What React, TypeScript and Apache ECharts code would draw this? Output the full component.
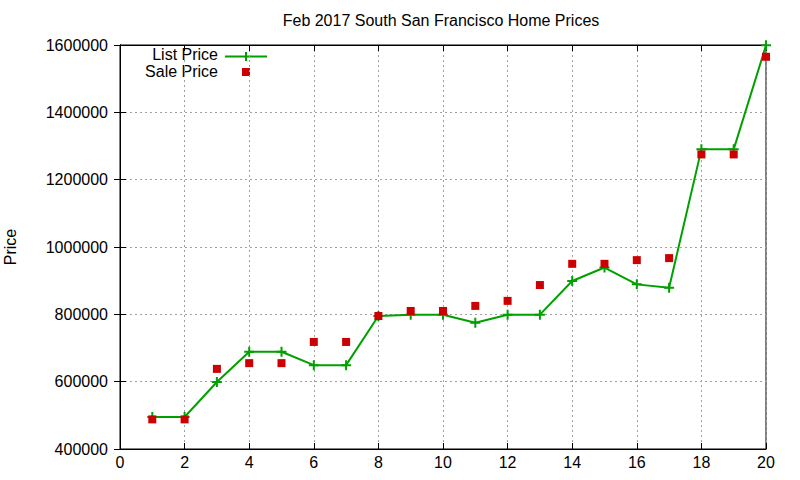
import React, { useEffect, useRef } from "react";
import * as echarts from "echarts";

const titleText = "Feb 2017 South San Francisco Home Prices";
const yAxisName = "Price";
const listLabel = "List Price";
const saleLabel = "Sale Price";
const xValues = [1, 2, 3, 4, 5, 6, 7, 8, 9, 10, 11, 12, 13, 14, 15, 16, 17, 18, 19, 20];
const listPrice = [495000, 495000, 599000, 689000, 689000, 649000, 649000, 795000, 799000, 799000, 775000, 799000, 799000, 899000, 939000, 889000, 879000, 1290000, 1290000, 1599000];
const salePrice = [488000, 488000, 638000, 655000, 655000, 718000, 718000, 795000, 810000, 810000, 825000, 840000, 887000, 950000, 950000, 961000, 967000, 1275000, 1275000, 1565000];

const FONT = "Liberation Sans, Arial, sans-serif";
const FS = 16;
const GREEN = "#00a000";
const RED = "#cc0000";
const PLUS = "path://M4,0 H6 V4 H10 V6 H6 V10 H4 V6 H0 V4 H4 Z";

export default function App() {
  const ref = useRef<HTMLDivElement>(null);
  useEffect(() => {
    const chart = echarts.init(ref.current!, null, { renderer: "svg" });
    const axisCommon = {
      axisLine: { show: true, lineStyle: { color: "#000", width: 1 } },
      axisTick: { show: true, inside: true, length: 6, lineStyle: { color: "#000" } },
    };
    const splitDotted = { show: true, lineStyle: { color: "#a0a0a0", type: [2, 3], width: 1 } };
    chart.setOption({
      animation: false,
      backgroundColor: "#fff",
      textStyle: { fontFamily: FONT },
      grid: { left: 120, right: 34, top: 45, bottom: 31, show: true, borderColor: "#000", borderWidth: 1, containLabel: false, outerBoundsMode: "none" },
      xAxis: [
        {
          type: "value", min: 0, max: 20, interval: 2, position: "bottom",
          ...axisCommon,
          axisLabel: { color: "#000", fontSize: FS, fontFamily: FONT, margin: 5, formatter: (v: number) => String(v) },
          splitLine: splitDotted,
        },
        {
          type: "value", min: 0, max: 20, interval: 2, position: "top",
          ...axisCommon,
          axisLabel: { show: false },
          splitLine: { show: false },
        },
      ],
      yAxis: [
        {
          type: "value", min: 400000, max: 1600000, interval: 200000, position: "left",
          ...axisCommon,
          name: yAxisName, nameLocation: "middle", nameRotate: 90, nameGap: 102,
          nameTextStyle: { color: "#000", fontSize: FS, fontFamily: FONT },
          axisLabel: { color: "#000", fontSize: FS, fontFamily: FONT, margin: 12, formatter: (v: number) => String(v) },
          splitLine: splitDotted,
        },
        {
          type: "value", min: 400000, max: 1600000, interval: 200000, position: "right",
          ...axisCommon,
          axisLabel: { show: false },
          splitLine: { show: false },
        },
      ],
      series: [
        {
          type: "line", name: listLabel, xAxisIndex: 0, yAxisIndex: 0,
          data: xValues.map((x, i) => [x, listPrice[i]]),
          lineStyle: { color: GREEN, width: 2 },
          itemStyle: { color: GREEN },
          symbol: PLUS, symbolSize: 10, showSymbol: true,
          z: 2,
        },
        {
          type: "scatter", name: saleLabel, xAxisIndex: 0, yAxisIndex: 0,
          data: xValues.map((x, i) => [x, salePrice[i]]),
          itemStyle: { color: RED, opacity: 1 },
          symbol: "rect", symbolSize: 8,
          z: 3,
        },
      ],
      graphic: [
        { type: "text", x: 441, y: 20, style: { text: titleText, fill: "#000", font: `${FS}px ${FONT}`, textAlign: "center", textVerticalAlign: "middle" } },
        { type: "text", x: 218, y: 54.5, style: { text: listLabel, fill: "#000", font: `${FS}px ${FONT}`, textAlign: "right", textVerticalAlign: "middle" } },
        { type: "line", shape: { x1: 225, y1: 56.5, x2: 267, y2: 56.5 }, style: { stroke: GREEN, lineWidth: 2 } },
        { type: "line", shape: { x1: 246, y1: 52, x2: 246, y2: 61 }, style: { stroke: GREEN, lineWidth: 2 } },
        { type: "text", x: 218, y: 71.5, style: { text: saleLabel, fill: "#000", font: `${FS}px ${FONT}`, textAlign: "right", textVerticalAlign: "middle" } },
        { type: "rect", shape: { x: 242, y: 68, width: 8, height: 8 }, style: { fill: RED } },
      ],
    });
    return () => chart.dispose();
  }, []);
  return <div ref={ref} style={{ position: "fixed", left: 0, top: 0, width: 800, height: 480 }} />;
}
